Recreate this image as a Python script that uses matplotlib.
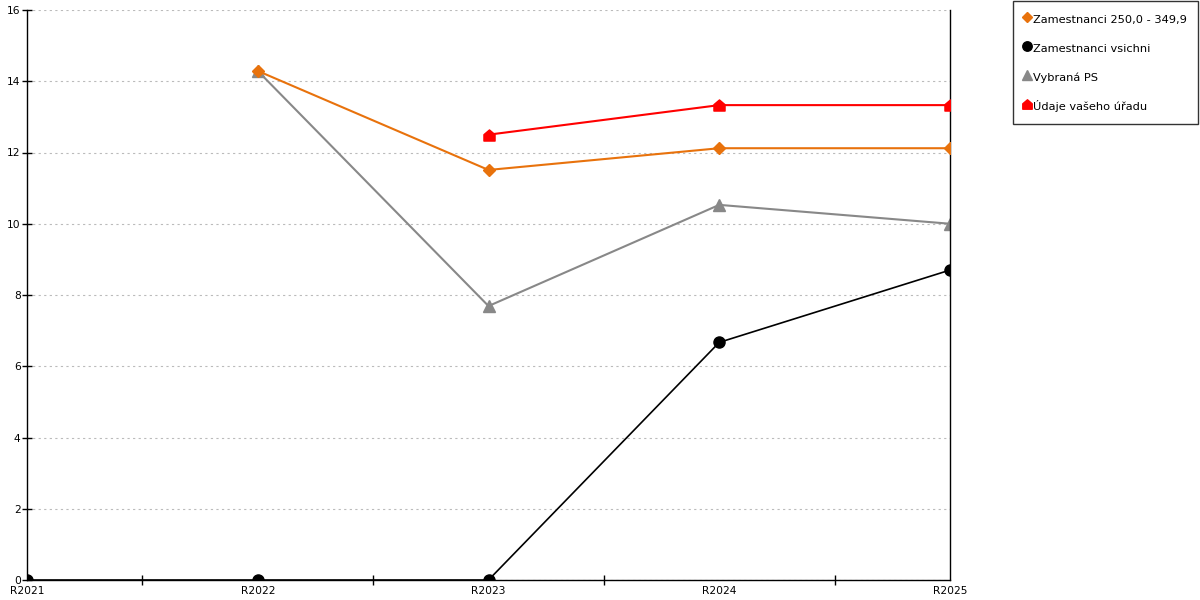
import matplotlib
matplotlib.use("Agg")
import matplotlib.pyplot as plt
from matplotlib.path import Path
import numpy as np

categories = ["R2021", "R2022", "R2023", "R2024", "R2025"]
zam_250 = [None, 14.29, 11.51, 12.12, 12.12]
zam_all = [0, 0, 0, 6.67, 8.70]
vybrana = [None, 14.29, 7.69, 10.53, 10.0]
udaje = [None, None, 12.5, 13.33, 13.33]
yticks = [0, 2, 4, 6, 8, 10, 12, 14, 16]

names = ["Zamestnanci 250,0 - 349,9", "Zamestnanci vsichni", "Vybraná PS", "Údaje vašeho úřadu"]

plt.rcParams['font.family'] = ['DejaVu Sans']
FS = 7.7
LFS = 8.2
fig = plt.figure(figsize=(12, 6), dpi=100)
ax = fig.add_axes([27/1200, 20/600, (950-27)/1200, 570/600])

house = Path([(-1, -1), (1, -1), (1, 0.15), (0, 1), (-1, 0.15), (-1, -1)],
             [Path.MOVETO, Path.LINETO, Path.LINETO, Path.LINETO, Path.LINETO, Path.CLOSEPOLY])

x = np.arange(len(categories))

def arr(v):
    return np.array([np.nan if a is None else a for a in v], dtype=float)

ax.plot(x, arr(zam_250), color="#e8720c", lw=1.5, marker="D", ms=6.5, label=names[0], zorder=3)
ax.plot(x, arr(zam_all), color="#000000", lw=1.2, marker="o", ms=8, label=names[1], zorder=4)
ax.plot(x, arr(vybrana), color="#888888", lw=1.5, marker="^", ms=8, label=names[2], zorder=2)
ax.plot(x, arr(udaje), color="#ff0000", lw=1.5, marker=house, ms=8, label=names[3], zorder=3)

ax.set_xlim(0, len(categories) - 1)
ax.set_ylim(0, 16)
ax.set_yticks(yticks)
ax.set_xticks(x)
ax.set_xticklabels(categories)
ax.set_xticks(np.arange(0.5, len(categories) - 1, 0.5), minor=True)
ax.tick_params(axis='x', which='both', direction='inout', length=7, width=1, labelsize=FS, pad=4)
ax.tick_params(axis='x', which='major', length=0, pad=4)
ax.tick_params(axis='y', direction='inout', length=7, width=1, labelsize=FS, pad=1)

ax.grid(axis='y', color='#bbbbbb', linestyle=(0, (2, 3)), lw=0.8)
ax.set_axisbelow(True)
for s in ['left', 'bottom', 'right']:
    ax.spines[s].set_color('black')
    ax.spines[s].set_linewidth(1)
ax.spines['top'].set_visible(False)

leg = fig.legend(loc='upper left', bbox_to_anchor=(1013/1200, 0.998), frameon=True,
                 fancybox=False, edgecolor='black', fontsize=LFS, handlelength=0.5,
                 handleheight=1.5, handletextpad=0.3, labelspacing=1.32, borderpad=0.95,
                 borderaxespad=0, markerscale=0.85)
for h in leg.legend_handles:
    h.set_linestyle('None')
leg.get_frame().set_linewidth(1)

fig.savefig("out.png", dpi=100)
